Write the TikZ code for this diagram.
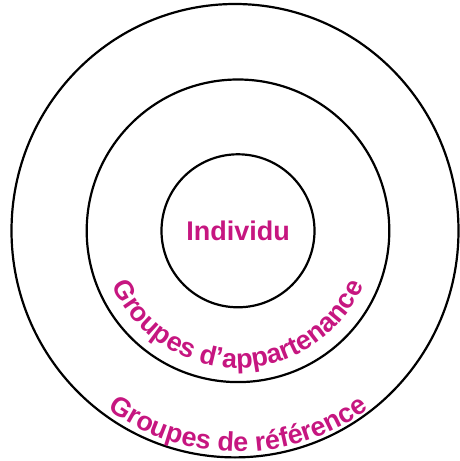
\documentclass[tikz,border=0pt]{standalone}
\usepackage{fontspec}
\setmainfont{Liberation Sans}
\usetikzlibrary{decorations.text}
\definecolor{labelmag}{RGB}{198,22,128}
\newcommand{\labelfont}{\bfseries\fontsize{27}{32}\selectfont}
\newcommand{\ringtext}[3][]
{\path [decorate,decoration={text along path,text align=center,text color=labelmag,
		text={|\labelfont|#3}},#1] (c) ++(180:#2) arc [start angle=180,end angle=360,radius=#2];
}

\begin{document}
\begin{tikzpicture}[x=1pt,y=1pt,ring/.style={line width=2.2pt}]
	\useasboundingbox (0,0) rectangle (460,461);
	\coordinate (c) at (238,230.2);
	\coordinate (co) at (235,230.3);
	% rings
	\draw [ring] (co) ellipse [x radius=223.5pt,y radius=226.7pt];
	\draw [ring] (c) circle [radius=151.3pt];
	\draw [ring] (c) circle [radius=76.5pt];
	% labels
	\node [text=labelmag,font=\labelfont] (individu) at (c) {Individu};
	\ringtext{137pt}{Groupes d'appartenance}
	\ringtext[shift={(-3,0)}]{221pt}{Groupes de référence}
\end{tikzpicture}
\end{document}
